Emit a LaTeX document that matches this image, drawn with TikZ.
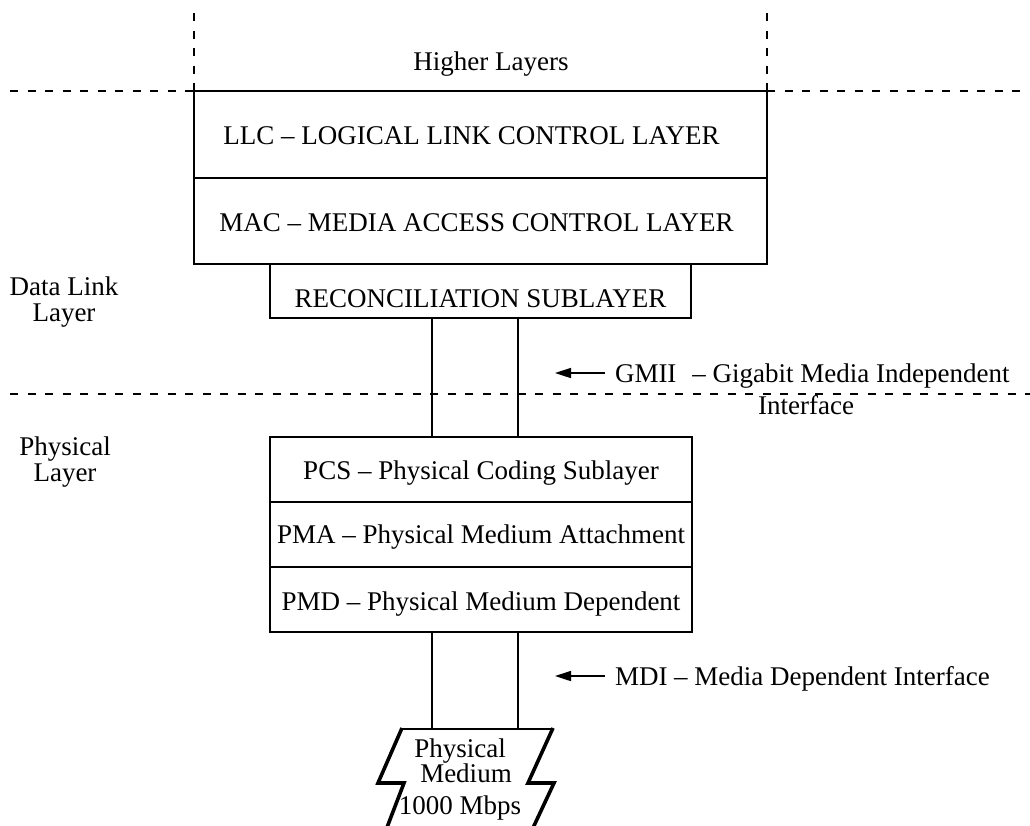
\documentclass[tikz,border=0pt]{standalone}
\usepackage{fontspec}
\setmainfont{Liberation Serif}
\usetikzlibrary{arrows.meta,calc}
\newcommand\tightlines{\lineskiplimit-100pt\relax}
\begin{document}
\begin{tikzpicture}[x=1pt,y=-1pt,line width=1.6pt,line join=miter,
  txt/.style={font=\fontsize{27}{27}\selectfont,inner sep=0pt,outer sep=0pt},
  layerbox/.style={txt,draw,text height=19pt,text depth=0pt},
  lbl/.style={txt,text height=18pt,text depth=0pt},
  sidelbl/.style={txt,align=center,font=\fontsize{27}{26}\selectfont\tightlines},
  dashline/.style={dash pattern=on 8pt off 9.5pt},
  ptr/.style={-{Triangle[length=16pt,width=10pt]}},
  bolt/.style={line width=3.6pt}
]
\useasboundingbox (0,0) rectangle (1030,825);

% data link boxes
\node[layerbox,minimum width=573pt,minimum height=87pt] (llc) at (480.5,134.5) {LLC – LOGICAL LINK CONTROL LAYER\hspace*{18pt}};
\node[layerbox,minimum width=573pt,minimum height=86pt,text height=20pt] (mac) at (480.5,221) {MAC – MEDIA ACCESS CONTROL LAYER\hspace*{8pt}};
\node[layerbox,minimum width=421pt,minimum height=54pt,text height=32pt] (recon) at (480.5,291) {RECONCILIATION SUBLAYER};

% physical boxes
\node[layerbox,minimum width=422pt,minimum height=65pt] (pcs) at (481,469.5) {PCS – Physical Coding Sublayer};
\node[layerbox,minimum width=422pt,minimum height=65pt,text height=17pt] (pma) at (481,534.5) {PMA – Physical Medium Attachment};
\node[layerbox,minimum width=422pt,minimum height=65pt,text height=21pt] (pmd) at (481,599.5) {PMD – Physical Medium Dependent};

% higher layers
\node[lbl] (higher) at (491,61) {Higher Layers};
\draw[dashline] (llc.north west) -- ++(0,-78);
\draw[dashline] (llc.north east) -- ++(0,-78);
\coordinate (dl0) at (10,91);
\coordinate (dl1) at (1030,91);
\draw[dashline] (dl0) -- (llc.north west);
\draw[dashline] (llc.north east) -- (dl1);

% layer boundary
\coordinate (pl0) at (10,394);
\coordinate (pl1) at (1030,394);
\draw[dashline] (pl0) -- (pl1);

% side labels
\node[sidelbl] (dll) at (64,301.7) {Data Link\\Layer};
\node[sidelbl] (phl) at (65,461.8) {Physical\\Layer};

% GMII connectors
\coordinate (cx1) at (432,0);
\coordinate (cx2) at (518,0);
\draw (recon.south -| cx1) -- (pcs.north -| cx1);
\draw (recon.south -| cx2) -- (pcs.north -| cx2);

% GMII label
\node[lbl,anchor=west] (gmii) at (615,373) {GMII\hspace{16pt}– Gigabit Media Independent};
\node[txt,anchor=base east] (gmii2) at (854,414) {Interface};
\coordinate (gmiitip) at (555,373);
\draw[ptr] ([xshift=-10pt]gmii.west) -- (gmiitip);

% physical medium
\coordinate (mtop) at (0,729);
\draw (pmd.south -| cx1) -- (mtop -| cx1);
\draw (pmd.south -| cx2) -- (mtop -| cx2);
\draw (402,729) -- (553,729);
\draw[bolt] (402,728) -- (378,783) -- (404,783) -- (386,830);
\draw[bolt] (553,728) -- (528,783) -- (554,783) -- (532,830);
\node[txt,align=center,font=\fontsize{27}{25}\selectfont\tightlines] (medium) at (460,779.3) {Physical\\\hspace*{12pt}Medium\\[7pt]1000 Mbps};

% MDI label
\node[lbl,anchor=west] (mdi) at (615,676) {MDI – Media Dependent Interface};
\coordinate (mditip) at (555,676);
\draw[ptr] ([xshift=-10pt]mdi.west) -- (mditip);
\end{tikzpicture}
\end{document}
